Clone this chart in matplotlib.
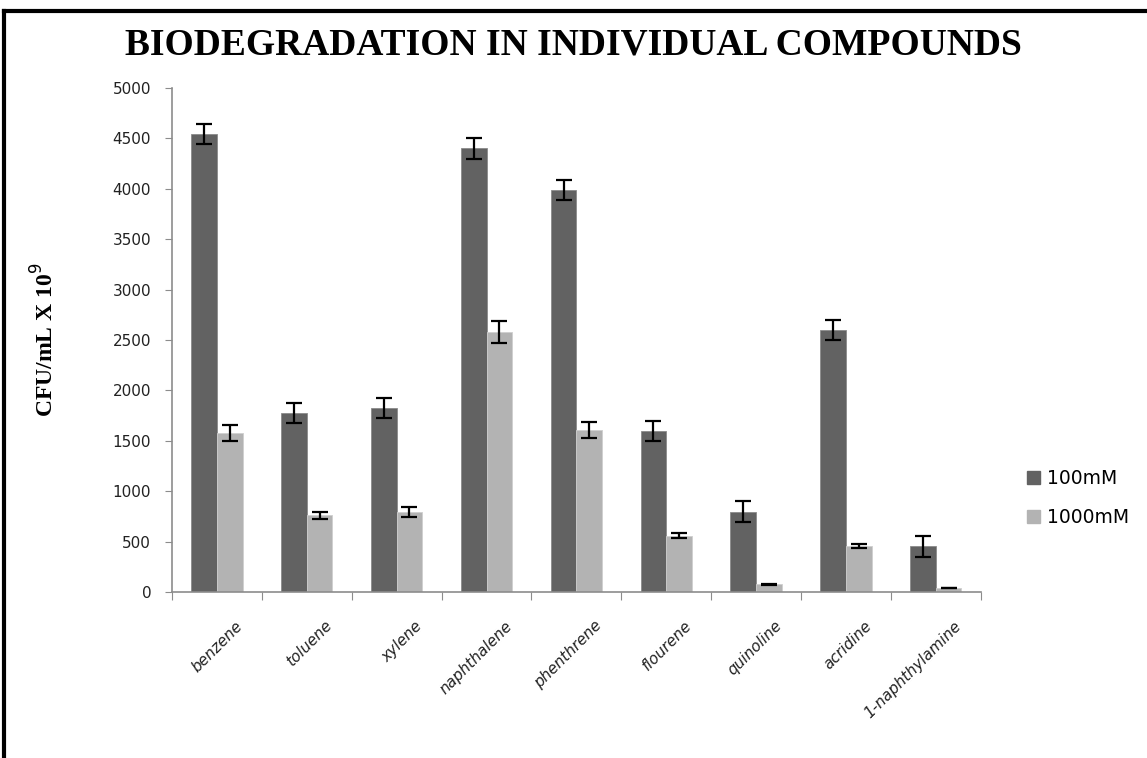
import numpy as np
import matplotlib.pyplot as plt
from matplotlib.lines import Line2D
from matplotlib.patches import Patch

compounds = ['benzene', 'toluene', 'xylene', 'naphthalene', 'phenthrene',
             'flourene', 'quinoline', 'acridine', '1-naphthylamine']
cfu_100 = [4540, 1775, 1825, 4400, 3990, 1595, 795, 2600, 455]
err_100 = [100, 100, 104, 101, 101, 102, 103, 102, 104]
cfu_1000 = [1580, 760, 795, 2580, 1610, 560, 75, 455, 40]
err_1000 = [78, 36, 48, 110, 78, 28, 5, 23, 3]

dark = '#626262'
light = '#b3b3b3'
axis_grey = '#8c8c8c'

fig = plt.figure(figsize=(11.47, 7.58), dpi=100)
ax = fig.add_axes([0.150, 0.219, 0.705, 0.665])

x = np.arange(len(compounds))
w = 0.285
ekw = dict(ecolor='black', elinewidth=1.6, capsize=5.5, capthick=1.6)
ax.bar(x - w / 2, cfu_100, w, color=dark, edgecolor='#8a8a8a', linewidth=0.6,
       yerr=err_100, error_kw=ekw)
ax.bar(x + w / 2, cfu_1000, w, color=light, edgecolor='#cfcfcf', linewidth=0.6,
       yerr=err_1000, error_kw=ekw)

ax.set_xlim(-0.5, len(compounds) - 0.5)
ax.set_ylim(0, 5000)
ax.set_yticks(np.arange(0, 5001, 500))
ax.tick_params(axis='y', direction='out', length=5, color=axis_grey,
               labelsize=11, pad=10)
for lbl in ax.get_yticklabels():
    lbl.set_color('#222222')

# category boundary ticks on x axis
ax.set_xticks(np.arange(-0.5, len(compounds), 1.0))
ax.set_xticklabels([])
ax.tick_params(axis='x', direction='out', length=6, color=axis_grey)
for i, name in enumerate(compounds):
    ax.text(i + 0.2, -260, name, rotation=45, ha='right', va='top',
            rotation_mode='anchor', fontsize=11, color='#222222',
            fontstyle='italic')

for side in ['top', 'right']:
    ax.spines[side].set_visible(False)
for side in ['left', 'bottom']:
    ax.spines[side].set_color(axis_grey)
    ax.spines[side].set_linewidth(1.2)

ax.set_ylabel('CFU/mL X 10$^{9}$', fontsize=17, fontweight='bold',
              family='Liberation Serif')
ax.yaxis.set_label_coords(-0.14, 0.5)

fig.text(0.5, 0.94, 'BIODEGRADATION IN INDIVIDUAL COMPOUNDS',
         ha='center', va='center', fontsize=27, fontweight='bold',
         family='Liberation Serif')

handles = [Patch(facecolor=dark, edgecolor=dark), Patch(facecolor=light, edgecolor=light)]
fig.legend(handles, ['100mM', '1000mM'], loc='center left',
           bbox_to_anchor=(0.887, 0.343), frameon=False, fontsize=13.5,
           borderpad=0, handlelength=0.7, handleheight=0.7, handletextpad=0.4,
           labelspacing=1.1)

# outer frame, left and top edges
fig.add_artist(Line2D([0.0035, 0.0035], [0, 0.985], color='black', lw=3,
                      transform=fig.transFigure))
fig.add_artist(Line2D([0.0035, 1.0], [0.985, 0.985], color='black', lw=3,
                      transform=fig.transFigure))

fig.savefig('out.png', dpi=100)
